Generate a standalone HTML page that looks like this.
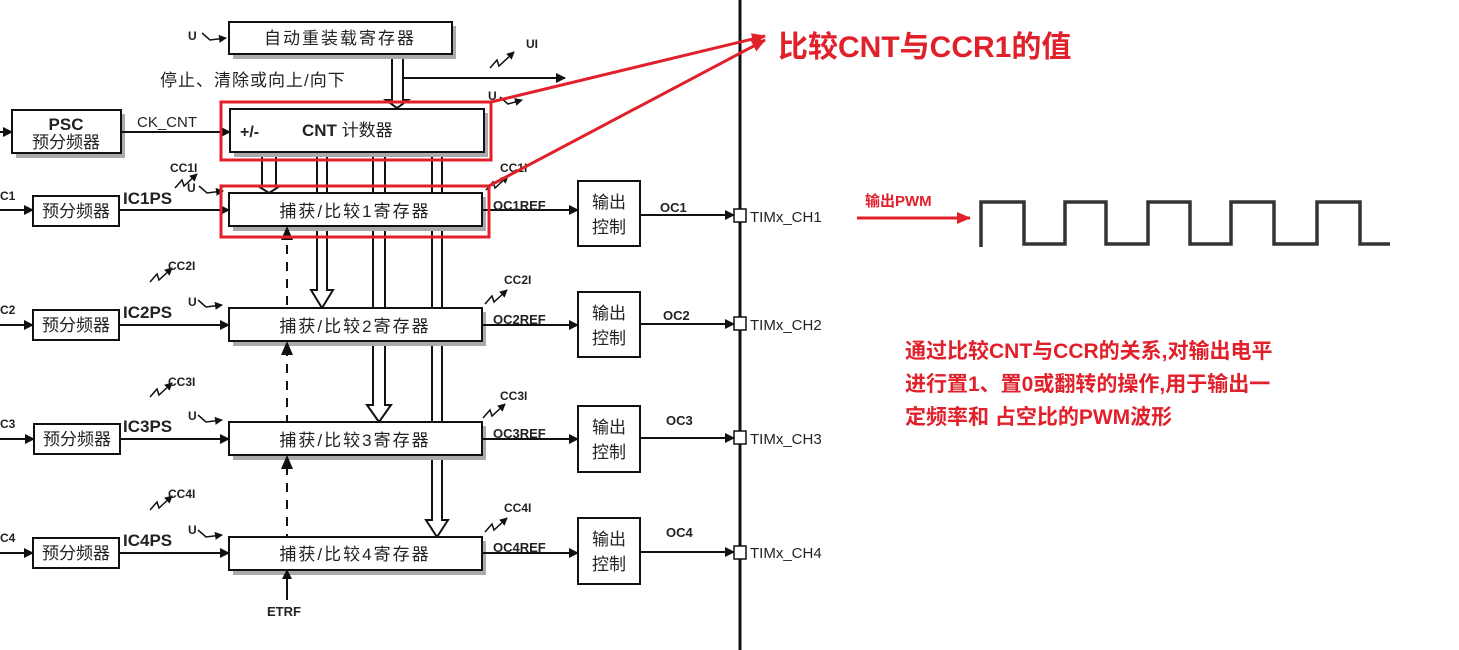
<!DOCTYPE html>
<html><head><meta charset="utf-8"><style>
html,body{margin:0;padding:0;background:#fff;width:1459px;height:650px;overflow:hidden}
svg text{font-family:"Liberation Sans","Noto Sans CJK SC",sans-serif}
</style></head><body>
<svg width="1459" height="650" viewBox="0 0 1459 650" xmlns="http://www.w3.org/2000/svg">
<defs>
<marker id="a" markerWidth="10" markerHeight="10" refX="9" refY="5" orient="auto" markerUnits="userSpaceOnUse"><path d="M0,0 L10,5 L0,10 z" fill="#111"/></marker>
<marker id="s" markerWidth="8" markerHeight="8" refX="7" refY="4" orient="auto" markerUnits="userSpaceOnUse"><path d="M0,0 L8,4 L0,8 z" fill="#111"/></marker>
<marker id="r" markerWidth="14" markerHeight="12" refX="13" refY="6" orient="auto" markerUnits="userSpaceOnUse"><path d="M0,0 L14,6 L0,12 z" fill="#e0202a"/></marker>
</defs>
<!-- double-line buses (behind boxes) -->
<g stroke="#111" stroke-width="2" fill="#fff">
<path d="M392,54 V100 H386 L397,108 L408,100 H403 V54"/>
<path d="M262,152 V186 H258 L269,193 L280,186 H276 V152"/>
<path d="M317,152 V290 H311 L322,308 L333,290 H327 V152"/>
<path d="M373,152 V405 H367 L379,422 L391,405 H385 V152"/>
<path d="M432,152 V520 H426 L437,537 L448,520 H442 V152"/>
</g>
<line x1="287" y1="245" x2="287" y2="537" stroke="#111" stroke-width="2" stroke-dasharray="9,8"/>
<g fill="#aaa" stroke="none">
<rect x="233" y="26" width="223" height="33"/>
<rect x="16" y="114" width="109" height="44"/>
<rect x="234" y="113" width="254" height="44"/>
<rect x="233" y="197" width="253" height="34"/>
<rect x="233" y="312" width="253" height="34"/>
<rect x="233" y="426" width="253" height="34"/>
<rect x="233" y="541" width="253" height="34"/>
</g>
<g fill="#fff" stroke="#111" stroke-width="2">
<rect x="229" y="22" width="223" height="32"/>
<rect x="12" y="110" width="109" height="43"/>
<rect x="230" y="109" width="254" height="43"/>
<rect x="229" y="193" width="253" height="33"/>
<rect x="229" y="308" width="253" height="33"/>
<rect x="229" y="422" width="253" height="33"/>
<rect x="229" y="537" width="253" height="33"/>
<rect x="33" y="196" width="86" height="30"/>
<rect x="33" y="310" width="86" height="30"/>
<rect x="34" y="424" width="86" height="30"/>
<rect x="33" y="538" width="86" height="30"/>
<rect x="578" y="181" width="62" height="65"/>
<rect x="578" y="292" width="62" height="65"/>
<rect x="578" y="406" width="62" height="66"/>
<rect x="578" y="518" width="62" height="66"/>
</g>
<line x1="740" y1="0" x2="740" y2="650" stroke="#111" stroke-width="3"/>
<g fill="#fff" stroke="#111" stroke-width="1.5">
<rect x="734" y="209" width="12" height="13"/>
<rect x="734" y="317" width="12" height="13"/>
<rect x="734" y="431" width="12" height="13"/>
<rect x="734" y="546" width="12" height="13"/>
</g>
<g stroke="#111" stroke-width="2" fill="none" marker-end="url(#a)">
<line x1="0" y1="210" x2="33" y2="210"/><line x1="0" y1="325" x2="33" y2="325"/><line x1="0" y1="439" x2="34" y2="439"/><line x1="0" y1="553" x2="33" y2="553"/>
<line x1="0" y1="132" x2="12" y2="132"/>
<line x1="121" y1="132" x2="230" y2="132"/>
<line x1="119" y1="210" x2="229" y2="210"/><line x1="119" y1="325" x2="229" y2="325"/><line x1="120" y1="439" x2="229" y2="439"/><line x1="119" y1="553" x2="229" y2="553"/>
<line x1="482" y1="210" x2="578" y2="210"/><line x1="482" y1="325" x2="578" y2="325"/><line x1="482" y1="439" x2="578" y2="439"/><line x1="482" y1="553" x2="578" y2="553"/>
<line x1="640" y1="215" x2="734" y2="215"/><line x1="640" y1="324" x2="734" y2="324"/><line x1="640" y1="438" x2="734" y2="438"/><line x1="640" y1="552" x2="734" y2="552"/>
<line x1="403" y1="78" x2="565" y2="78"/>
<line x1="287" y1="600" x2="287" y2="570"/>
</g>
<g fill="#111"><path d="M281,240 L287,226 L293,240z"/><path d="M281,355 L287,341 L293,355z"/><path d="M281,469 L287,455 L293,469z"/></g>
<g stroke="#111" stroke-width="1.5" fill="none" marker-end="url(#s)">
<path d="M202,33 L210,40 L226,38"/><path d="M500,97 L508,104 L522,100"/>
<path d="M199,186 L207,193 L223,191"/><path d="M198,300 L206,307 L222,305"/><path d="M198,415 L206,422 L222,420"/><path d="M198,530 L206,537 L222,535"/>
<path d="M175,188 L182,180 L184,186 L197,174"/><path d="M150,282 L157,274 L159,280 L172,268"/><path d="M150,397 L157,389 L159,395 L172,383"/><path d="M150,510 L157,502 L159,508 L172,496"/>
<path d="M490,68 L497,60 L499,66 L514,52"/>
<path d="M486,190 L493,182 L495,188 L508,176"/><path d="M485,304 L492,296 L494,302 L507,290"/><path d="M483,418 L490,410 L492,416 L505,404"/><path d="M485,532 L492,524 L494,530 L507,518"/>
</g>
<g font-size="15" fill="#222">
<text x="340" y="44" text-anchor="middle" font-size="17" letter-spacing="2">自动重装载寄存器</text>
<text x="160" y="86" font-size="17" letter-spacing="1">停止、清除或向上/向下</text>
<text x="66" y="130" text-anchor="middle" font-weight="bold" font-size="17">PSC</text>
<text x="66" y="148" text-anchor="middle" font-size="17">预分频器</text>
<text x="137" y="127">CK_CNT</text>
<text x="240" y="137" font-weight="bold" font-size="16">+/-</text>
<text x="302" y="136" font-size="17"><tspan font-weight="bold">CNT</tspan> 计数器</text>
<g font-size="17" text-anchor="middle" letter-spacing="2">
<text x="355" y="217">捕获/比较1寄存器</text>
<text x="355" y="332">捕获/比较2寄存器</text>
<text x="355" y="446">捕获/比较3寄存器</text>
<text x="355" y="560">捕获/比较4寄存器</text></g>
<g font-size="17" text-anchor="middle"><text x="76" y="217">预分频器</text><text x="76" y="331">预分频器</text><text x="77" y="445">预分频器</text><text x="76" y="559">预分频器</text>
<text x="609" y="208">输出</text><text x="609" y="233">控制</text><text x="609" y="319">输出</text><text x="609" y="344">控制</text><text x="609" y="433">输出</text><text x="609" y="458">控制</text><text x="609" y="545">输出</text><text x="609" y="570">控制</text></g>
<g font-weight="bold" font-size="17"><text x="123" y="204">IC1PS</text><text x="123" y="318">IC2PS</text><text x="123" y="432">IC3PS</text><text x="123" y="546">IC4PS</text></g>
<g font-weight="bold" font-size="12"><text x="170" y="172">CC1I</text><text x="168" y="270">CC2I</text><text x="168" y="386">CC3I</text><text x="168" y="498">CC4I</text>
<text x="500" y="172">CC1I</text><text x="504" y="284">CC2I</text><text x="500" y="400">CC3I</text><text x="504" y="512">CC4I</text>
<text x="526" y="48">UI</text>
<text x="188" y="40">U</text><text x="488" y="100">U</text><text x="187" y="192">U</text><text x="188" y="306">U</text><text x="188" y="420">U</text><text x="188" y="534">U</text>
<text x="0" y="200">C1</text><text x="0" y="314">C2</text><text x="0" y="428">C3</text><text x="0" y="542">C4</text>
<text x="493" y="210" font-size="13">OC1REF</text><text x="493" y="324" font-size="13">OC2REF</text><text x="493" y="438" font-size="13">OC3REF</text><text x="493" y="552" font-size="13">OC4REF</text>
<text x="660" y="212" font-size="13">OC1</text><text x="663" y="320" font-size="13">OC2</text><text x="666" y="425" font-size="13">OC3</text><text x="666" y="537" font-size="13">OC4</text>
<text x="267" y="616" font-size="13">ETRF</text></g>
<g font-size="15"><text x="750" y="222">TIMx_CH1</text><text x="750" y="330">TIMx_CH2</text><text x="750" y="444">TIMx_CH3</text><text x="750" y="558">TIMx_CH4</text></g>
</g>
<g stroke="#e0202a" stroke-width="3" fill="none">
<rect x="221" y="102" width="270" height="58"/>
<rect x="221" y="186" width="268" height="51"/>
<line x1="491" y1="102" x2="765" y2="36" marker-end="url(#r)"/>
<line x1="489" y1="186" x2="765" y2="40" marker-end="url(#r)"/>
<line x1="857" y1="218" x2="970" y2="218" marker-end="url(#r)"/>
</g>
<text x="778" y="57" fill="#e0202a" font-size="30" font-weight="bold">比较CNT与CCR1的值</text>
<text x="865" y="206" fill="#e0202a" font-size="15" font-weight="bold">输出PWM</text>
<g fill="#e0202a" font-size="21" font-weight="bold">
<text x="905" y="358">通过比较CNT与CCR的关系,对输出电平</text>
<text x="905" y="391">进行置1、置0或翻转的操作,用于输出一</text>
<text x="905" y="424">定频率和 占空比的PWM波形</text>
</g>
<path d="M981,247 V202 H1024 V244 H1065 V202 H1106 V244 H1148 V202 H1190 V244 H1231 V202 H1274 V244 H1317 V202 H1360 V244 H1390" stroke="#333" stroke-width="3.5" fill="none"/>
</svg>
</body></html>
